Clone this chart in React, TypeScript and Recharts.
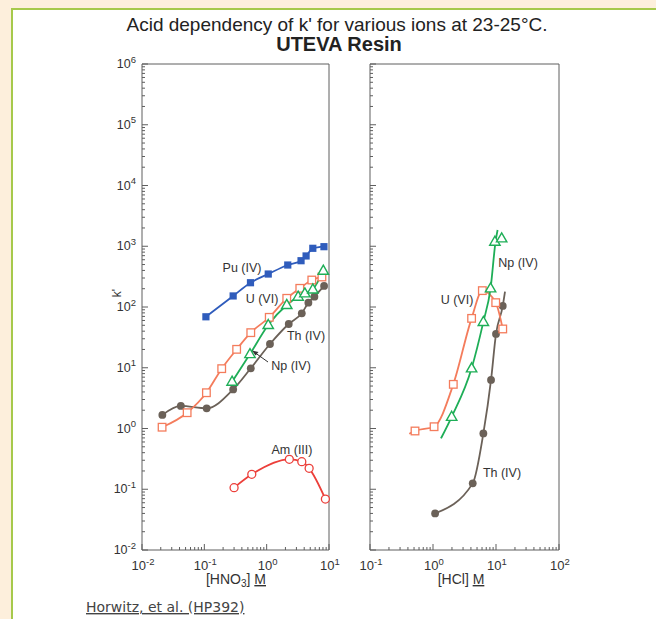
import React from 'react';
import { ComposedChart, Line, Scatter, XAxis, YAxis } from 'recharts';

type Pt = { x: number; y: number };

// [HNO3] panel, k' values
const puHno3: Pt[] = [
  { x: 0.106, y: 69 }, { x: 0.29, y: 152 }, { x: 0.55, y: 251 }, { x: 1.06, y: 349 },
  { x: 2.18, y: 491 }, { x: 3.56, y: 578 }, { x: 4.29, y: 692 }, { x: 5.5, y: 925 }, { x: 8.3, y: 984 },
];
const uHno3: Pt[] = [
  { x: 0.021, y: 1.05 }, { x: 0.053, y: 1.82 }, { x: 0.108, y: 3.88 }, { x: 0.19, y: 9.66 },
  { x: 0.33, y: 20.1 }, { x: 0.556, y: 37.8 }, { x: 1.1, y: 67.6 }, { x: 2.1, y: 139 },
  { x: 3.4, y: 203 }, { x: 5.3, y: 278 }, { x: 7.7, y: 312 },
];
const thHno3: Pt[] = [
  { x: 0.0212, y: 1.67 }, { x: 0.042, y: 2.35 }, { x: 0.109, y: 2.15 }, { x: 0.29, y: 4.4 },
  { x: 0.556, y: 9.8 }, { x: 1.13, y: 24.6 }, { x: 2.26, y: 52.5 }, { x: 3.66, y: 78.7 },
  { x: 4.67, y: 118 }, { x: 5.83, y: 148 }, { x: 8.34, y: 222 },
];
const npHno3: Pt[] = [
  { x: 0.279, y: 5.9 }, { x: 0.54, y: 16.8 }, { x: 1.06, y: 50.6 }, { x: 2.1, y: 108 },
  { x: 3.2, y: 148 }, { x: 4.1, y: 168 }, { x: 5.5, y: 195 }, { x: 8.1, y: 396 },
];
const amHno3: Pt[] = [
  { x: 0.3, y: 0.106 }, { x: 0.577, y: 0.176 }, { x: 2.31, y: 0.311 },
  { x: 3.66, y: 0.284 }, { x: 4.8, y: 0.221 }, { x: 8.75, y: 0.069 },
];

// [HCl] panel
const uHcl: Pt[] = [
  { x: 0.518, y: 0.91 }, { x: 1.04, y: 1.07 }, { x: 2.1, y: 5.33 }, { x: 4.1, y: 65 },
  { x: 6.07, y: 186 }, { x: 9.9, y: 118 }, { x: 12.8, y: 43.5 },
];
const uHclFit: Pt[] = [
  { x: 0.42, y: 0.82 }, { x: 0.518, y: 0.91 }, { x: 1.04, y: 1.07 }, { x: 2.1, y: 5.33 },
  { x: 4.1, y: 65 }, { x: 6.07, y: 186 }, { x: 9.9, y: 118 }, { x: 12.8, y: 43.5 },
];
const npHcl: Pt[] = [
  { x: 1.98, y: 1.56 }, { x: 4.1, y: 9.8 }, { x: 6.3, y: 57 }, { x: 8.2, y: 203 },
  { x: 9.6, y: 1190 }, { x: 12.3, y: 1352 },
];
const npHclFit: Pt[] = [
  { x: 1.34, y: 0.69 }, { x: 1.98, y: 1.56 }, { x: 4.1, y: 9.8 }, { x: 6.3, y: 57 },
  { x: 8.2, y: 203 }, { x: 9.9, y: 1250 }, { x: 10.6, y: 1850 },
];
const thHcl: Pt[] = [
  { x: 1.08, y: 0.04 }, { x: 4.27, y: 0.125 }, { x: 6.3, y: 0.83 }, { x: 8.34, y: 6.3 },
  { x: 10, y: 36 }, { x: 12.8, y: 104 },
];
const thHclFit: Pt[] = [...thHcl, { x: 13.9, y: 179 }];

const hno3Domain: [number, number] = [0.01, 10];
const hclDomain: [number, number] = [0.1, 100];
const kDomain: [number, number] = [0.01, 1e6];

const logTicks = (lo: number, hi: number) => {
  const out: number[] = [];
  for (let e = lo; e < hi; e++) {
    for (let m = 1; m < 10; m++) out.push(Number((m * Math.pow(10, e)).toPrecision(3)));
  }
  out.push(Math.pow(10, hi));
  return out;
};
const hno3Ticks = logTicks(-2, 1);
const hclTicks = logTicks(-1, 2);
const kTicks = logTicks(-2, 6);

const BLUE = '#2f5cbc';
const ORANGE = '#f47c5c';
const GREEN = '#1eae57';
const BROWN = '#6b6158';
const RED = '#ec3f3a';
const AXIS = '#5e5e5e';
const FONT = '"Liberation Sans", Arial, sans-serif';

const LogTick = (props: any) => {
  const { x, y, payload, side, label } = props;
  const lg = Math.log10(payload.value);
  const e = Math.round(lg);
  const major = Math.abs(lg - e) < 1e-6;
  const len = major ? 6 : 3;
  const d: Record<string, number[]> = { bottom: [0, -len], top: [0, len], left: [len, 0], right: [-len, 0] };
  const [dx, dy] = d[side];
  return (
    <g>
      <line x1={x} y1={y} x2={x + dx} y2={y + dy} stroke={AXIS} strokeWidth={1} />
      {label && major && side === 'bottom' && (
        <text x={x + 1} y={y + 20} textAnchor="middle" fontSize={13} fontFamily={FONT} fill="#333">
          10<tspan dy={-5.5} fontSize={9.5}>{e}</tspan>
        </text>
      )}
      {label && major && side === 'left' && (
        <text x={x - 6} y={y + 4} textAnchor="end" fontSize={12.5} fontFamily={FONT} fill="#333">
          10<tspan dy={-5.5} fontSize={9.5}>{e}</tspan>
        </text>
      )}
    </g>
  );
};

type Kind = 'squareFilled' | 'squareOpen' | 'circleFilled' | 'circleOpen' | 'triangleOpen';

const marker = (kind: Kind, color: string) => (p: any) => {
  const { cx, cy } = p;
  if (cx == null || cy == null) return <g />;
  switch (kind) {
    case 'squareFilled':
      return <rect x={cx - 3.6} y={cy - 3.6} width={7.2} height={7.2} fill={color} />;
    case 'squareOpen':
      return <rect x={cx - 3.8} y={cy - 3.8} width={7.6} height={7.6} fill="#fff" stroke={color} strokeWidth={1.3} />;
    case 'circleFilled':
      return <circle cx={cx} cy={cy} r={3.9} fill={color} />;
    case 'circleOpen':
      return <circle cx={cx} cy={cy} r={4} fill="#fff" stroke={color} strokeWidth={1.3} />;
    default:
      return (
        <path
          d={`M${cx},${cy - 5.5}L${cx + 5.2},${cy + 3.6}L${cx - 5.2},${cy + 3.6}Z`}
          fill="#fff"
          stroke={color}
          strokeWidth={1.4}
        />
      );
  }
};

interface Series {
  name: string;
  data: Pt[];
  fit?: Pt[];
  color: string;
  kind: Kind;
}

const hno3Series: Series[] = [
  { name: 'Am', data: amHno3, color: RED, kind: 'circleOpen' },
  { name: 'Th', data: thHno3, color: BROWN, kind: 'circleFilled' },
  { name: 'U', data: uHno3, color: ORANGE, kind: 'squareOpen' },
  { name: 'Np', data: npHno3, color: GREEN, kind: 'triangleOpen' },
  { name: 'Pu', data: puHno3, color: BLUE, kind: 'squareFilled' },
];

const hclSeries: Series[] = [
  { name: 'Th', data: thHcl, fit: thHclFit, color: BROWN, kind: 'circleFilled' },
  { name: 'U', data: uHcl, fit: uHclFit, color: ORANGE, kind: 'squareOpen' },
  { name: 'Np', data: npHcl, fit: npHclFit, color: GREEN, kind: 'triangleOpen' },
];

interface PanelProps {
  width: number;
  xDomain: [number, number];
  xTicks: number[];
  series: Series[];
  yLabels: boolean;
  margin: { top: number; right: number; bottom: number; left: number };
  leftAxisWidth: number;
}

const Panel: React.FC<PanelProps> = ({ width, xDomain, xTicks, series, yLabels, margin, leftAxisWidth }) => (
  <ComposedChart width={width} height={619} margin={margin}>
    <XAxis
      xAxisId="b" dataKey="x" type="number" scale="log" domain={xDomain} ticks={xTicks}
      interval={0} tickSize={0} tickMargin={0} height={30}
      axisLine={{ stroke: AXIS }} tick={<LogTick side="bottom" label />}
    />
    <XAxis
      xAxisId="t" orientation="top" dataKey="x" type="number" scale="log" domain={xDomain} ticks={xTicks}
      interval={0} tickSize={0} tickMargin={0} height={10}
      axisLine={{ stroke: AXIS }} tick={<LogTick side="top" />}
    />
    <YAxis
      yAxisId="l" dataKey="y" type="number" scale="log" domain={kDomain} ticks={kTicks}
      interval={0} tickSize={0} tickMargin={0} width={leftAxisWidth}
      axisLine={{ stroke: AXIS }} tick={<LogTick side="left" label={yLabels} />}
    />
    <YAxis
      yAxisId="r" orientation="right" dataKey="y" type="number" scale="log" domain={kDomain} ticks={kTicks}
      interval={0} tickSize={0} tickMargin={0} width={10}
      axisLine={{ stroke: AXIS }} tick={<LogTick side="right" />}
    />
    {series.map((s) => (
      <Line
        key={`l-${s.name}`} xAxisId="b" yAxisId="l" data={s.fit ?? s.data} dataKey="y"
        type="monotone" stroke={s.color} strokeWidth={1.8} dot={false} isAnimationActive={false}
      />
    ))}
    {series.map((s) => (
      <Scatter
        key={`s-${s.name}`} xAxisId="b" yAxisId="l" data={s.data} dataKey="y"
        shape={marker(s.kind, s.color)} isAnimationActive={false}
      />
    ))}
  </ComposedChart>
);

const lbl = { fontFamily: FONT, fontSize: 12.5, fill: '#333', textAnchor: 'middle' as const };

export default function App() {
  return (
    <div style={{ position: 'absolute', left: 0, top: 0, width: 656, height: 619, background: '#fdefdc', overflow: 'hidden' }}>
      <div style={{ position: 'absolute', left: 11, top: 8, right: -10, bottom: -10, background: '#fff', borderLeft: '2px solid #a6c94b', borderTop: '2px solid #a6c94b' }} />
      <div style={{ position: 'absolute', left: 0, top: 0 }}>
        <Panel
          width={345} xDomain={hno3Domain} xTicks={hno3Ticks} series={hno3Series} yLabels
          margin={{ top: 54, right: 6, bottom: 39, left: 102 }} leftAxisWidth={40}
        />
      </div>
      <div style={{ position: 'absolute', left: 345, top: 0 }}>
        <Panel
          width={311} xDomain={hclDomain} xTicks={hclTicks} series={hclSeries} yLabels={false}
          margin={{ top: 54, right: 87, bottom: 39, left: 15 }} leftAxisWidth={10}
        />
      </div>
      <svg width={656} height={619} style={{ position: 'absolute', left: 0, top: 0, pointerEvents: 'none' }}>
        <text x={337} y={31} textAnchor="middle" fontFamily={FONT} fontSize={19} fill="#222">
          Acid dependency of k' for various ions at 23-25°C.
        </text>
        <text x={339} y={51} textAnchor="middle" fontFamily={FONT} fontSize={20} fontWeight="bold" fill="#222">
          UTEVA Resin
        </text>
        <text x={121} y={293} transform="rotate(-90 121 293)" textAnchor="middle" fontFamily={FONT} fontSize={12} fill="#333">
          k'
        </text>
        <text x={236} y={584} textAnchor="middle" fontFamily={FONT} fontSize={14} fill="#333">
          [HNO<tspan dy={3} fontSize={10}>3</tspan><tspan dy={-3}>] </tspan>
          <tspan textDecoration="underline">M</tspan>
        </text>
        <text x={461} y={584} textAnchor="middle" fontFamily={FONT} fontSize={14} fill="#333">
          [HCl] <tspan textDecoration="underline">M</tspan>
        </text>
        <text x={86} y={612} fontFamily='"DejaVu Sans", sans-serif' fontSize={14} fill="#444" textDecoration="underline">
          Horwitz, et al. (HP392)
        </text>

        <text x={242} y={272} {...lbl}>Pu (IV)</text>
        <text x={262} y={303} {...lbl}>U (VI)</text>
        <text x={306} y={340} {...lbl}>Th (IV)</text>
        <text x={291} y={370} {...lbl}>Np (IV)</text>
        <text x={292} y={454} {...lbl}>Am (III)</text>
        <line x1={268} y1={362} x2={254} y2={352} stroke="#333" strokeWidth={1} />
        <path d="M252,350.5 L258.5,352 L255.5,355.5 Z" fill="#333" />

        <text x={518} y={267} {...lbl}>Np (IV)</text>
        <text x={457} y={304} {...lbl}>U (VI)</text>
        <text x={502} y={477} {...lbl}>Th (IV)</text>
      </svg>
    </div>
  );
}
